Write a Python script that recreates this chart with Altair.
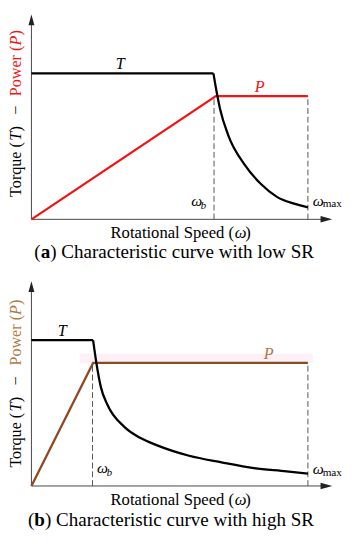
import altair as alt
import pandas as pd

FONT = "Liberation Serif"
XDOM = [-0.779, 10.39]

# ---------------- Panel (a): low SR ----------------
a_T_x = [0.0, 6.05]
a_T_y = [7.15, 7.15]
a_Tc_x = [6.05, 6.16, 6.27, 6.54, 7.08, 7.62, 8.16, 8.70, 9.19]
a_Tc_y = [7.15, 6.21, 5.41, 4.13, 2.69, 1.74, 1.10, 0.78, 0.59]
a_P_x = [0.0, 6.13, 9.19]
a_P_y = [0.0, 6.04, 6.04]
a_guide_x = [6.07, 9.19]
a_guide_top = [6.04, 6.04]
a_ydom = [-2.727, 10.048]

# ---------------- Panel (b): high SR ----------------
b_T_x = [0.0, 2.05]
b_T_y = [7.14, 7.14]
b_Tc_x = [2.05, 2.15, 2.31, 2.53, 3.07, 3.61, 4.16, 5.24, 6.32, 7.40, 8.48, 9.19]
b_Tc_y = [7.14, 6.11, 4.83, 3.97, 2.92, 2.36, 2.00, 1.48, 1.16, 0.88, 0.72, 0.60]
b_P_x = [0.0, 2.05, 9.19]
b_P_y = [0.0, 6.03, 6.03]
b_guide_x = [2.03, 9.19]
b_guide_top = [6.03, 6.03]
b_ydom = [-2.440, 10.335]

RED = "#f01414"
BROWN = "#8b4a22"
TAN = "#b07a45"

YT = -0.51  # x position of the rotated axis title

# labels: text, x, y, colour, size, style, align, angle
a_labels = [
    ("T", 2.95, 7.37, "black", 16.5, "i", "center", 0),
    ("P", 7.59, 6.25, RED, 16.5, "i", "center", 0),
    ("ω", 5.31, 0.67, "black", 16, "i", "left", 0),
    ("b", 5.63, 0.53, "black", 11, "i", "left", 0),
    ("ω", 9.35, 0.67, "black", 16, "i", "left", 0),
    ("max", 9.68, 0.59, "black", 11.5, "n", "left", 0),
    ("Rotational Speed (", 2.63, -0.93, "black", 17, "n", "left", 0),
    ("ω", 6.76, -0.93, "black", 17, "i", "left", 0),
    (")", 7.11, -0.93, "black", 17, "n", "left", 0),
    ("(", 0.097, -1.90, "black", 19.5, "n", "left", 0),
    ("a", 0.308, -1.90, "black", 19.5, "b", "left", 0),
    (") Characteristic curve with low SR", 0.625, -1.90, "black", 19.5, "n", "left", 0),
    ("Torque (", YT, 1.10, "black", 16.5, "n", "left", 270),
    ("T", YT, 3.85, "black", 16.5, "i", "left", 270),
    (")", YT, 4.30, "black", 16.5, "n", "left", 270),
    ("−", YT, 5.35, "black", 16.5, "n", "center", 270),
    ("Power (", YT, 6.03, RED, 16.5, "n", "left", 270),
    ("P", YT, 8.51, RED, 16.5, "i", "left", 270),
    (")", YT, 9.00, RED, 16.5, "n", "left", 270),
]

b_labels = [
    ("T", 1.02, 7.33, "black", 16.5, "i", "center", 0),
    ("P", 7.89, 6.22, TAN, 16.5, "i", "center", 0),
    ("ω", 2.18, 0.66, "black", 16, "i", "left", 0),
    ("b", 2.50, 0.50, "black", 11, "i", "left", 0),
    ("ω", 9.35, 0.57, "black", 16, "i", "left", 0),
    ("max", 9.68, 0.48, "black", 11.5, "n", "left", 0),
    ("Rotational Speed (", 2.63, -0.91, "black", 17, "n", "left", 0),
    ("ω", 6.76, -0.91, "black", 17, "i", "left", 0),
    (")", 7.11, -0.91, "black", 17, "n", "left", 0),
    ("(", -0.114, -1.95, "black", 19.5, "n", "left", 0),
    ("b", 0.097, -1.95, "black", 19.5, "b", "left", 0),
    (") Characteristic curve with high SR", 0.449, -1.95, "black", 19.5, "n", "left", 0),
    ("Torque (", YT, 0.90, "black", 16.5, "n", "left", 270),
    ("T", YT, 3.65, "black", 16.5, "i", "left", 270),
    (")", YT, 4.10, "black", 16.5, "n", "left", 270),
    ("−", YT, 5.15, "black", 16.5, "n", "center", 270),
    ("Power (", YT, 5.90, TAN, 16.5, "n", "left", 270),
    ("P", YT, 8.38, TAN, 16.5, "i", "left", 270),
    (")", YT, 8.87, TAN, 16.5, "n", "left", 270),
]

AXIS_END = 9.7
Y_ARROW_TIP = 10.03
X_ARROW_TIP = 10.0
UP_ARROW = "M0,0L0.55,2L-0.55,2Z"
RIGHT_ARROW = "M0,0L-2,-0.55L-2,0.55Z"


def panel(T_x, T_y, Tc_x, Tc_y, P_x, P_y, g_x, g_top, p_color, labels, ydom, halo=False):
    xs = alt.Scale(domain=XDOM, nice=False, zero=False)
    ys = alt.Scale(domain=ydom, nice=False, zero=False)

    def X(f):
        return alt.X(f, type="quantitative", scale=xs, axis=None)

    def Y(f):
        return alt.Y(f, type="quantitative", scale=ys, axis=None)

    layers = []

    if halo:
        hdf = pd.DataFrame({"x0": [1.6], "x1": [9.35], "y0": [P_y[-1]], "y1": [P_y[-1] + 0.45]})
        layers.append(
            alt.Chart(hdf).mark_rect(color="#fdf0f7").encode(
                x=X("x0"), x2="x1", y=Y("y0"), y2="y1")
        )

    # axes lines
    xax = pd.DataFrame({"x0": [0.0], "x1": [AXIS_END], "y": [0.0]})
    yax = pd.DataFrame({"x": [0.0], "y0": [0.0], "y1": [AXIS_END]})
    layers.append(alt.Chart(xax).mark_rule(color="#444", strokeWidth=1).encode(
        x=X("x0"), x2="x1", y=Y("y")))
    layers.append(alt.Chart(yax).mark_rule(color="#444", strokeWidth=1).encode(
        x=X("x"), y=Y("y0"), y2="y1"))
    # arrow heads
    layers.append(alt.Chart(pd.DataFrame({"x": [0.0], "y": [Y_ARROW_TIP]})).mark_point(
        shape=UP_ARROW, filled=True, size=121, color="#222", opacity=1, strokeWidth=0).encode(
        x=X("x"), y=Y("y")))
    layers.append(alt.Chart(pd.DataFrame({"x": [X_ARROW_TIP], "y": [0.0]})).mark_point(
        shape=RIGHT_ARROW, filled=True, size=144, color="#222", opacity=1, strokeWidth=0).encode(
        x=X("x"), y=Y("y")))

    # dashed guides
    gdf = pd.DataFrame({"x": g_x, "y0": [0.0] * len(g_x), "y1": g_top})
    layers.append(alt.Chart(gdf).mark_rule(color="#555", strokeWidth=1, strokeDash=[6, 3]).encode(
        x=X("x"), y=Y("y0"), y2="y1"))

    # power line
    pdf = pd.DataFrame({"x": P_x, "y": P_y, "o": list(range(len(P_x)))})
    layers.append(alt.Chart(pdf).mark_line(color=p_color, strokeWidth=2.3).encode(
        x=X("x"), y=Y("y"), order="o:Q"))

    # torque: constant part and decaying part
    tdf = pd.DataFrame({"x": T_x, "y": T_y, "o": list(range(len(T_x)))})
    layers.append(alt.Chart(tdf).mark_line(color="black", strokeWidth=2.3).encode(
        x=X("x"), y=Y("y"), order="o:Q"))
    tcdf = pd.DataFrame({"x": Tc_x, "y": Tc_y, "o": list(range(len(Tc_x)))})
    layers.append(alt.Chart(tcdf).mark_line(color="black", strokeWidth=2.3, interpolate="monotone").encode(
        x=X("x"), y=Y("y"), order="o:Q"))

    # text
    ldf = pd.DataFrame(labels, columns=["t", "x", "y", "c", "s", "st", "al", "ang"])
    for (st, al, ang), sub in ldf.groupby(["st", "al", "ang"]):
        kw = dict(font=FONT, align=al, angle=float(ang),
                  baseline="middle" if ang else "alphabetic")
        if st == "i":
            kw["fontStyle"] = "italic"
        if st == "b":
            kw["fontWeight"] = "bold"
        layers.append(alt.Chart(sub.reset_index(drop=True)).mark_text(**kw).encode(
            x=X("x"), y=Y("y"), text="t:N",
            color=alt.Color("c:N", scale=None),
            size=alt.Size("s:Q", scale=None)))

    return alt.layer(*layers).properties(width=344, height=267)


pa = panel(a_T_x, a_T_y, a_Tc_x, a_Tc_y, a_P_x, a_P_y, a_guide_x, a_guide_top, RED, a_labels, a_ydom)
pb = panel(b_T_x, b_T_y, b_Tc_x, b_Tc_y, b_P_x, b_P_y, b_guide_x, b_guide_top, BROWN, b_labels, b_ydom, halo=True)

chart = alt.vconcat(pa, pb, spacing=0).properties(
    padding=0
).configure_view(stroke=None)

chart.save("out.html", embed_options={"renderer": "svg", "actions": False})
